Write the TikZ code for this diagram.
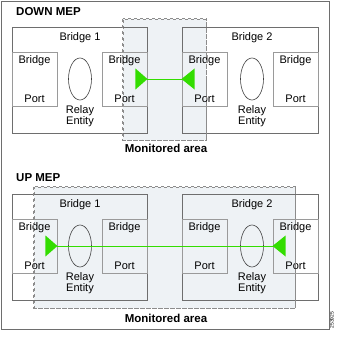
\documentclass[tikz,border=0pt]{standalone}
\usepackage{fontspec}
\setmainfont{Liberation Sans}
\usetikzlibrary{calc,shapes.geometric}
\definecolor{framegray}{HTML}{6E6E6E}
\definecolor{portgray}{HTML}{9A9A9A}
\definecolor{areafill}{HTML}{EEF2F5}
\definecolor{areadash}{HTML}{8C8C8C}
\definecolor{mepgreen}{HTML}{33DD00}
\tikzset{
  x=1pt, y=-1pt,
  bridgebox/.style={draw=framegray, line width=0.9pt, minimum width=135pt, minimum height=106pt, inner sep=0pt},
  portbox/.style={draw=portgray, line width=0.9pt, minimum width=45pt, minimum height=54pt, inner sep=0pt},
  relay/.style={draw=black!75, line width=0.6pt, ellipse, minimum width=23pt, minimum height=42pt, inner sep=0pt},
  area/.style={fill=areafill, draw=areadash, dashed, line width=0.6pt, inner sep=0pt},
  lbl/.style={font=\fontsize{11}{12.5}\selectfont, inner sep=0pt, align=center},
  title/.style={font=\fontsize{11.5}{13}\selectfont\bfseries, inner sep=0pt},
  link/.style={draw=mepgreen, line width=0.9pt},
  mep/.style={fill=mepgreen},
}
\begin{document}
\begin{tikzpicture}
\useasboundingbox (0,0) rectangle (340,337);
\fill[white] (0,0) rectangle (340,337);
\node[draw=framegray, line width=0.9pt, minimum width=328pt, minimum height=328pt, inner sep=0pt] (frame) at (165,165) {};

% ---------- DOWN MEP ----------
\node[title, anchor=west] (downtitle) at (16,12) {DOWN MEP};
\node[area, minimum width=83pt, minimum height=121pt] (area1) at (164.5,79.5) {};
\node[title] (area1lbl) at (166,148) {Monitored area};

\node[bridgebox] (b1) at (79.5,80) {};
\node[lbl] (b1t) at (80,38) {Bridge 1};
\node[portbox] (b1l) at (34.5,79) {};
\node[portbox] (b1r) at (124.5,79) {};
\node[relay] (e1) at (80,79) {};
\node[lbl] (e1t) at (80,116.5) {Relay\\[-1.5pt]Entity};

\node[bridgebox, minimum width=136pt] (b2) at (250,80) {};
\node[lbl] (b2t) at (252,38) {Bridge 2};
\node[portbox] (b2l) at (204.5,79) {};
\node[portbox] (b2r) at (295.5,79) {};
\node[relay] (e2) at (252,79) {};
\node[lbl] (e2t) at (252,116.5) {Relay\\[-1.5pt]Entity};

\foreach \p in {b1l,b1r,b2l,b2r}{
  \node[lbl] (\p top) at ($(\p.north)+(0,9.5)$) {Bridge};
  \node[lbl] (\p bot) at ($(\p.south)+(0,-7.5)$) {Port};
}

\draw[link] (b1r.east) -- (b2l.west);
\fill[mep] (b1r.east) -- ++(-12,-10.5) -- ++(0,21) -- cycle;
\fill[mep] (b2l.west) -- ++(13,-10.5) -- ++(0,21) -- cycle;
\draw[areadash, dashed, line width=0.6pt] (area1.north west) rectangle (area1.south east);

% ---------- UP MEP ----------
\node[title, anchor=west] (uptitle) at (16,178) {UP MEP};
\node[area, minimum width=261pt, minimum height=121pt] (area2) at (164.5,247.5) {};
\node[title] (area2lbl) at (166,318) {Monitored area};

\node[bridgebox] (c1) at (79.5,247) {};
\node[lbl] (c1t) at (80,205) {Bridge 1};
\node[portbox] (c1l) at (34.5,246) {};
\node[portbox] (c1r) at (124.5,246) {};
\node[relay] (f1) at (80,246) {};
\node[lbl] (f1t) at (80,283.5) {Relay\\[-1.5pt]Entity};

\node[bridgebox, minimum width=136pt] (c2) at (250,247) {};
\node[lbl] (c2t) at (252,205) {Bridge 2};
\node[portbox] (c2l) at (204.5,246) {};
\node[portbox] (c2r) at (295.5,246) {};
\node[relay] (f2) at (252,246) {};
\node[lbl] (f2t) at (252,283.5) {Relay\\[-1.5pt]Entity};

\foreach \p in {c1l,c1r,c2l,c2r}{
  \node[lbl] (\p top) at ($(\p.north)+(0,9.5)$) {Bridge};
  \node[lbl] (\p bot) at ($(\p.south)+(0,-7.5)$) {Port};
}

\draw[link] (c1l.east) -- (c2r.west);
\fill[mep] (c1l.east) -- ++(-12,-10.5) -- ++(0,21) -- cycle;
\fill[mep] (c2r.west) -- ++(13,-10.5) -- ++(0,21) -- cycle;
\draw[areadash, dashed, line width=0.6pt] (area2.north west) rectangle (area2.south east);

\node[rotate=90, font=\fontsize{5}{6}\selectfont, inner sep=0pt] (fig) at (332,320) {253925};
\end{tikzpicture}
\end{document}
